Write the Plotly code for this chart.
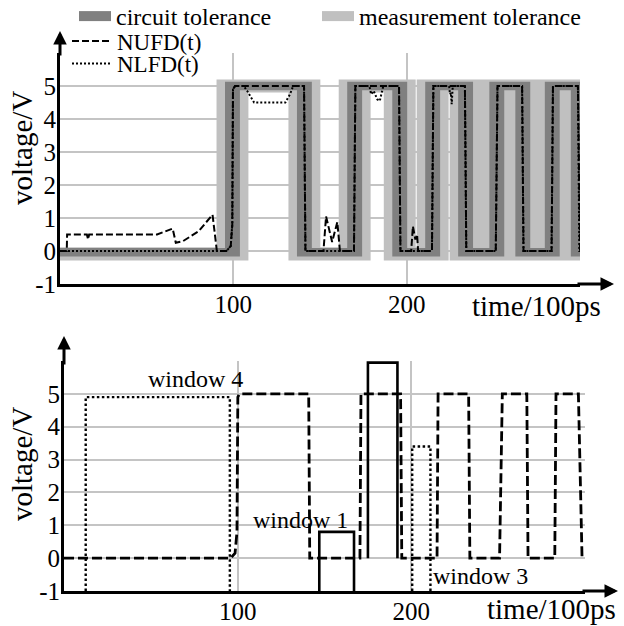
import plotly.graph_objects as go

FONT = "Liberation Serif"
W, H = 624, 626

# ---------------- top chart data ----------------
# alternating rise / fall instants of the nominal signal (time/100ps)
top_edge_t = [99.5, 141, 170, 196, 215, 234, 252, 267, 284, 299]
top_high_v = 5.0

nufd_t = [0, 3.9, 4.1, 15.5, 16.2, 16.8, 56, 65, 66.8, 71, 80, 88, 90.5, 96, 98.5, 99.4, 99.8, 101,
          140.8, 141.6, 152, 153.5, 157, 160, 161.5, 169.6, 170.4, 195.6, 196.4, 202.6, 203.6, 205, 206, 206.6,
          214.6, 215.4, 233.6, 234.4, 251.4, 252.4, 266.6, 267.4, 283.6, 284.4, 298.8, 299.6, 300]
nufd_v = [0, 0, 0.5, 0.5, 0.35, 0.5, 0.5, 0.68, 0.25, 0.3, 0.6, 1.1, 0, 0, 0.15, 0.8, 4.9, 5,
          5, 0, 0, 1.05, 0.27, 0.88, 0, 0, 5, 5, 0, 0, 0.75, 0.35, 0.5, 0,
          0, 5, 5, 0, 0, 5, 5, 0, 0, 5, 5, 0, 0]

nlfd_t = [0, 96, 98.5, 99.4, 99.8, 101, 106, 108, 112, 130, 132.7, 134.5, 140.8, 141.6, 169.6, 170.4,
          178.5, 179.5, 181, 183, 184.5, 185.5, 186.5, 195.6, 196.4, 214.6, 215.4,
          224.5, 225, 225.5, 226, 226.6, 233.6, 234.4, 251.4, 252.4, 266.6, 267.4, 283.6, 284.4, 298.8, 299.6, 300]
nlfd_v = [0, 0, 0.15, 0.8, 4.9, 5, 5, 4.85, 4.5, 4.5, 4.75, 5, 5, 0, 0, 5,
          5, 4.75, 4.85, 4.6, 4.55, 4.8, 5, 5, 0, 0, 5,
          5, 4.75, 4.8, 4.45, 5, 5, 0, 0, 5, 5, 0, 0, 5, 5, 0, 0]

# tolerance bands: (time half-width, voltage half-width, low-level centre)
circuit_tol = (4.3, 0.13, -0.04)
measure_tol = (9.2, 0.20, -0.09)

# ---------------- bottom chart data ----------------
bot_sig_t = [0, 96, 98.5, 99.6, 100.1, 101, 140.9, 141.5, 170.4, 171, 193.8, 194.5, 214.8, 215.4,
             233, 233.7, 250.8, 252.4, 266.5, 267.2, 282.6, 283.3, 296.2, 298.3, 298.8]
bot_sig_v = [0, 0, 0.15, 0.8, 4.9, 5, 5, 0, 0, 5, 5, 0, 0, 5,
             5, 0, 0, 5, 5, 0, 0, 5, 5, 0, 0]

win_names = ["window 1", "window 2", "window 3", "window 4"]
win_x0 = [147, 175, 200.5, 12.5]
win_x1 = [167, 192, 211, 95.5]
win_y0 = [-1, 0, -1, -1]
win_y1 = [0.8, 5.95, 3.4, 4.9]
win_solid = [True, True, False, False]
win_label_x = [136, 181.6, 240, 76]
win_label_y = [1.15, 6.3, -0.55, 5.45]

x_ticks = [0, 100, 200, 300]
x_ticktext = ["", "100", "200", ""]
y_ticks = [-1, 0, 1, 2, 3, 4, 5, 6]
y_ticktext = ["-1", "0", "1", "2", "3", "4", "5", ""]


def band_path(edges, hx, hy, lo_c, hi_c, x_end):
    xs, ys = [], []

    def rect(a, b, lo, hi):
        xs.extend([a, b, b, a, a, None])
        ys.extend([lo, lo, hi, hi, lo, None])

    bounds = [0] + edges + [x_end]
    for i in range(len(bounds) - 1):
        c = lo_c if i % 2 == 0 else hi_c
        rect(bounds[i], bounds[i + 1], c - hy, c + hy)
    for t in edges:
        rect(t - hx, t + hx, lo_c - hy, hi_c + hy)
    return xs, ys


fig = go.Figure()

for (tol, col) in [(measure_tol, "#c0c0c0"), (circuit_tol, "#808080")]:
    bx, by = band_path(top_edge_t, tol[0], tol[1], tol[2], top_high_v, 310)
    fig.add_trace(go.Scatter(x=bx, y=by, mode="lines", fill="toself", fillcolor=col,
                             line=dict(width=0, color=col), hoverinfo="skip",
                             showlegend=False, xaxis="x", yaxis="y"))

fig.add_trace(go.Scatter(x=nlfd_t, y=nlfd_v, mode="lines", name="NLFD(t)",
                         line=dict(color="black", width=2, dash="2px,2px"),
                         legend="legend4", xaxis="x", yaxis="y"))
fig.add_trace(go.Scatter(x=nufd_t, y=nufd_v, mode="lines", name="NUFD(t)",
                         line=dict(color="black", width=2, dash="7px,3px"),
                         legend="legend3", xaxis="x", yaxis="y"))

# legend swatches for the bands
fig.add_trace(go.Scatter(x=[None], y=[None], mode="lines", name="circuit tolerance",
                         line=dict(color="#808080", width=14), legend="legend",
                         xaxis="x", yaxis="y"))
fig.add_trace(go.Scatter(x=[None], y=[None], mode="lines", name="measurement tolerance",
                         line=dict(color="#c0c0c0", width=14), legend="legend2",
                         xaxis="x", yaxis="y"))

# bottom chart
fig.add_trace(go.Scatter(x=bot_sig_t, y=bot_sig_v, mode="lines", showlegend=False,
                         line=dict(color="black", width=2.8, dash="10px,4px"),
                         xaxis="x2", yaxis="y2"))
for i in range(len(win_names)):
    fig.add_trace(go.Scatter(
        x=[win_x0[i], win_x0[i], win_x1[i], win_x1[i]],
        y=[win_y0[i], win_y1[i], win_y1[i], win_y0[i]],
        mode="lines", showlegend=False,
        line=dict(color="black", width=2.6 if win_solid[i] else 2.4,
                  dash="solid" if win_solid[i] else "2.5px,2.5px"),
        xaxis="x2", yaxis="y2"))

tickfont = dict(family=FONT, size=25, color="black")
axis_common = dict(showgrid=True, gridcolor="#c4c4c4", gridwidth=2, showline=True,
                   linecolor="black", linewidth=3, zeroline=False, ticks="",
                   tickfont=tickfont, tickmode="array", automargin=False)
xax = dict(range=[0, 300], tickvals=x_ticks, ticktext=x_ticktext, ticklabelstandoff=-4, **axis_common)
yax = dict(range=[-1, 6], tickvals=y_ticks, ticktext=y_ticktext, ticklabelstandoff=-4, **axis_common)

leg = dict(xanchor="left", yanchor="middle", bgcolor="rgba(0,0,0,0)", borderwidth=0)
fig.update_layout(
    width=W, height=H, margin=dict(l=0, r=0, t=0, b=0, autoexpand=False),
    paper_bgcolor="white", plot_bgcolor="white",
    font=dict(family=FONT, size=24, color="black"),
    xaxis=dict(domain=[60 / W, 580 / W], anchor="y", **xax),
    yaxis=dict(domain=[1 - 284 / H, 1 - 53 / H], anchor="x", **yax),
    xaxis2=dict(domain=[64 / W, 585 / W], anchor="y2", **xax),
    yaxis2=dict(domain=[1 - 591 / H, 1 - 361 / H], anchor="x2", **yax),
    legend=dict(x=74 / W, y=1 - 16.5 / H, font=dict(family=FONT, size=24), itemwidth=32, **leg),
    legend2=dict(x=317 / W, y=1 - 16.5 / H, font=dict(family=FONT, size=24), itemwidth=32, **leg),
    legend3=dict(x=67 / W, y=1 - 41 / H, font=dict(family=FONT, size=23), itemwidth=40, **leg),
    legend4=dict(x=67 / W, y=1 - 63.5 / H, font=dict(family=FONT, size=23), itemwidth=40, **leg),
)

ann = []
# axis arrows
arrow = dict(text="", showarrow=True, arrowhead=2, arrowsize=0.9, arrowwidth=3, arrowcolor="black",
             xref="paper", yref="paper", standoff=0, startstandoff=0)
ann.append(dict(x=60 / W, y=1 - 31 / H, ax=0, ay=26, **arrow))
ann.append(dict(x=614 / W, y=1 - 284 / H, ax=-38, ay=0, **arrow))
ann.append(dict(x=64 / W, y=1 - 336 / H, ax=0, ay=30, **arrow))
ann.append(dict(x=618 / W, y=1 - 591 / H, ax=-37, ay=0, **arrow))

lab = dict(font=dict(family=FONT, size=29, color="black"), showarrow=False, xref="paper", yref="paper")
ann.append(dict(text="voltage/V", x=22 / W, y=1 - 148 / H, textangle=-90, xanchor="center", yanchor="middle", **lab))
ann.append(dict(text="voltage/V", x=22 / W, y=1 - 464 / H, textangle=-90, xanchor="center", yanchor="middle", **lab))
ann.append(dict(text="time/100ps", x=470 / W, y=1 - 306 / H, xanchor="left", yanchor="middle", **lab))
ann.append(dict(text="time/100ps", x=485 / W, y=1 - 609 / H, xanchor="left", yanchor="middle", **lab))

for i in range(len(win_names)):
    ann.append(dict(text=win_names[i], x=win_label_x[i], y=win_label_y[i], xref="x2", yref="y2",
                    showarrow=False, xanchor="center", yanchor="middle",
                    font=dict(family=FONT, size=24, color="black")))

fig.update_layout(annotations=ann)
fig.write_html("out.html", config={"displayModeBar": False},
               post_script="document.body.style.margin='0px';")
